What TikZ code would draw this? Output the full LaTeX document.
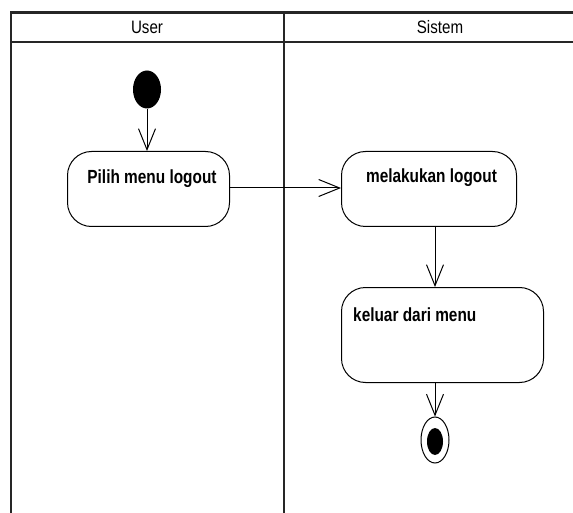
\documentclass[tikz,border=0pt]{standalone}
\usepackage{fontspec}
\setmainfont{Liberation Sans}
\newfontfamily\lanefont[FakeStretch=0.84]{Liberation Sans}
\newfontfamily\actfont[FakeStretch=0.81]{Liberation Sans Bold}
\usetikzlibrary{arrows.meta,shapes.geometric}
\begin{document}
\begin{tikzpicture}[x=1pt,y=-1pt,
  lane/.style={line width=2.4pt,black!85},
  lanetitle/.style={font=\lanefont\fontsize{18}{20}\selectfont,anchor=base,inner sep=0pt},
  action/.style={draw,line width=1pt,rounded corners=24pt,inner sep=0pt,anchor=north west},
  acttext/.style={font=\actfont\fontsize{19}{21}\selectfont,inner sep=0pt,anchor=base},
  flow/.style={line width=1pt,-{Straight Barb[length=21pt,width=17pt,line width=1pt]}},
  startnode/.style={ellipse,fill=black,minimum width=28pt,minimum height=38pt,inner sep=0pt},
  endouter/.style={ellipse,draw,line width=1pt,minimum width=28pt,minimum height=46pt,inner sep=0pt},
  endinner/.style={ellipse,fill=black,minimum width=16pt,minimum height=27pt,inner sep=0pt}
]
\useasboundingbox (0,0) rectangle (573,513);

% swimlane frame
\draw[lane] (10,12.5) -- (573,12.5);
\draw[lane] (10,42) -- (573,42);
\draw[lane] (11,12.5) -- (11,513);
\draw[lane] (284,12.5) -- (284,513);
\node[lanetitle] (tuser) at (147,34) {User};
\node[lanetitle] (tsys) at (440,34) {Sistem};

% nodes
\node[startnode] (start) at (147,89.5) {};
\node[action,minimum width=162pt,minimum height=75pt] (a1) at (67,151) {};
\node[acttext] (t1) at (152,184) {Pilih menu logout};
\node[action,minimum width=175pt,minimum height=75pt] (a2) at (341,151) {};
\node[acttext] (t2) at (431.5,183) {melakukan logout};
\node[action,minimum width=202pt,minimum height=95pt] (a3) at (341,287) {};
\node[acttext,anchor=base west] (t3) at (353,321) {keluar dari menu};
\node[endouter] (fin) at (435,440) {};
\node[endinner] (fininner) at (435,441.5) {};

% flows
\draw[flow] (start.south) -- (start.south |- a1.north);
\draw[flow] (a1.east |- 0,188) -- (a2.west |- 0,188);
\draw[flow] (435,226) coordinate (c1) -- (c1 |- a3.north);
\draw[flow] (435,382) coordinate (c2) -- (fin.north);
\end{tikzpicture}
\end{document}
